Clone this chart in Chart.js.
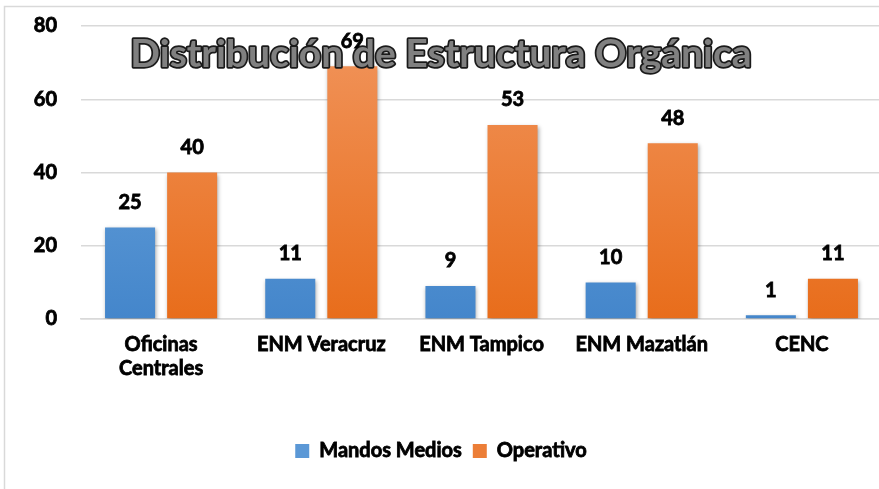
<!DOCTYPE html>
<html>
<head>
<meta charset="utf-8">
<script src="https://cdn.jsdelivr.net/npm/chart.js@4.4.1/dist/chart.umd.min.js"></script>
<style>
    html, body { margin: 0; padding: 0; background: #fff; overflow: hidden; }
    #wrap { width: 882px; height: 489px; position: relative; }
</style>
</head>
<body>
<div id="wrap"><canvas id="estructuraChart" width="882" height="489"></canvas></div>
<script>
const categorias = [["Oficinas", "Centrales"], "ENM Veracruz", "ENM Tampico", "ENM Mazatlán", "CENC"];
const mandosMedios = [25, 11, 9, 10, 1];
const operativo = [40, 69, 53, 48, 11];
const ticksY = [0, 20, 40, 60, 80];
const titulo = "Distribución de Estructura Orgánica";

const FONT = "Lato, 'Open Sans', sans-serif";
const PESO = "bold";

function degradado(ctx, arriba, abajo) {
    const area = ctx.chart.chartArea;
    if (!area) return abajo;
    const g = ctx.chart.ctx.createLinearGradient(0, area.bottom, 0, area.top);
    g.addColorStop(0, abajo);
    g.addColorStop(1, arriba);
    return g;
}

// sombra ligera de las barras
const sombraBarras = {
    id: "sombraBarras",
    beforeDatasetsDraw(chart) {
        const c = chart.ctx;
        c.save();
        c.shadowColor = "rgba(0,0,0,0.35)";
        c.shadowBlur = 4;
        c.shadowOffsetX = 1;
        c.shadowOffsetY = 2;
    },
    afterDatasetsDraw(chart) {
        chart.ctx.restore();
    }
};

// titulo superpuesto al area del grafico
const tituloPlugin = {
    id: "tituloPlugin",
    afterDatasetsDraw(chart) {
        const c = chart.ctx;
        c.save();
        let size = 36;
        c.font = "bold " + size + "px " + FONT;
        const w = c.measureText(titulo).width;
        size = size * 622 / w;
        c.font = "bold " + size.toFixed(1) + "px " + FONT;
        c.textAlign = "center";
        c.textBaseline = "middle";
        c.lineJoin = "round";
        c.lineWidth = 3.5;
        c.strokeStyle = "#1a1a1a";
        c.strokeText(titulo, 441, 54);
        c.fillStyle = "#808080";
        c.fillText(titulo, 441, 54);
        c.restore();
    }
};

// etiquetas de valores, texto de leyenda mas grueso y borde exterior
const etiquetas = {
    id: "etiquetas",
    afterDraw(chart) {
        const c = chart.ctx;
        c.save();
        c.font = PESO + " 20px " + FONT;
        c.fillStyle = "#000";
        c.strokeStyle = "#000";
        c.lineWidth = 0.8;
        c.textAlign = "center";
        c.textBaseline = "middle";
        chart.data.datasets.forEach((ds, i) => {
            chart.getDatasetMeta(i).data.forEach((bar, j) => {
                c.fillText(ds.data[j], bar.x, bar.y - 25);
                c.strokeText(ds.data[j], bar.x, bar.y - 25);
            });
        });
        const lg = chart.legend;
        if (lg && lg.legendHitBoxes) {
            c.textAlign = "left";
            lg.legendItems.forEach((item, k) => {
                const hb = lg.legendHitBoxes[k];
                c.strokeText(item.text, hb.left + 14 + 10, hb.top + hb.height / 2);
            });
        }
        c.strokeStyle = "#d9d9d9";
        c.lineWidth = 1.5;
        c.strokeRect(4.5, 6.5, 900, 500);
        c.restore();
    }
};

const ctx = document.getElementById("estructuraChart").getContext("2d");

new Chart(ctx, {
    type: "bar",
    data: {
        labels: categorias,
        datasets: [
            {
                label: "Mandos Medios",
                data: mandosMedios,
                backgroundColor: (c) => degradado(c, "#72a9de", "#4486cb"),
                barPercentage: 0.806,
                categoryPercentage: 0.775
            },
            {
                label: "Operativo",
                data: operativo,
                backgroundColor: (c) => degradado(c, "#f1955d", "#e86d1b"),
                barPercentage: 0.806,
                categoryPercentage: 0.775
            }
        ]
    },
    options: {
        responsive: false,
        animation: false,
        layout: { padding: { top: 26, right: 0, bottom: 18, left: 0 } },
        plugins: {
            title: { display: false },
            tooltip: { enabled: false },
            legend: {
                display: true,
                position: "bottom",
                labels: {
                    color: "#000",
                    font: { family: FONT, size: 20, weight: PESO },
                    boxWidth: 14,
                    boxHeight: 14,
                    padding: 11,
                    generateLabels(chart) {
                        const cols = ["#5b98d6", "#ec7e37"];
                        return chart.data.datasets.map((ds, i) => ({
                            text: ds.label,
                            fillStyle: cols[i],
                            strokeStyle: cols[i],
                            lineWidth: 0,
                            fontColor: "#000",
                            datasetIndex: i
                        }));
                    }
                }
            }
        },
        scales: {
            x: {
                grid: { display: false, drawTicks: false },
                border: { display: true, color: "#d9d9d9", width: 1.5 },
                ticks: {
                    color: "#000",
                    font: { family: FONT, size: 20, weight: PESO },
                    textStrokeColor: "#000",
                    textStrokeWidth: 0.8,
                    padding: 14,
                    maxRotation: 0,
                    autoSkip: false
                },
                afterFit(scale) { scale.height = 111; }
            },
            y: {
                min: 0,
                max: 80,
                afterBuildTicks(scale) { scale.ticks = ticksY.map(v => ({ value: v })); },
                grid: { color: "#d9d9d9", lineWidth: 1.5, drawTicks: false },
                border: { display: false },
                ticks: {
                    color: "#000",
                    font: { family: FONT, size: 20, weight: PESO },
                    textStrokeColor: "#000",
                    textStrokeWidth: 0.8,
                    padding: 24
                },
                afterFit(scale) {
                    scale.width = 81;
                    scale.paddingTop = 0;
                    scale.paddingBottom = 0;
                }
            }
        }
    },
    plugins: [sombraBarras, tituloPlugin, etiquetas]
});
</script>
</body>
</html>
